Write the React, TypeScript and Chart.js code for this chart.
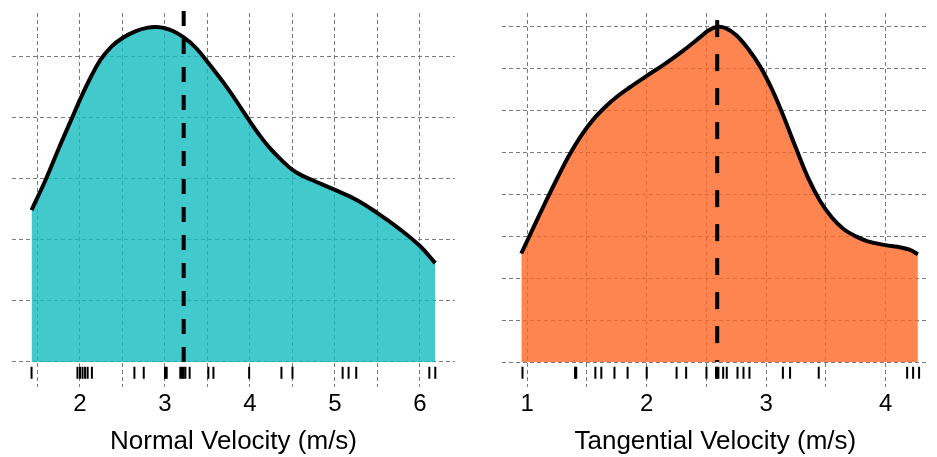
import React, { useEffect, useRef } from 'react';
import { Chart, registerables } from 'chart.js';

Chart.register(...registerables);

// ---------- data ----------
// Normal velocity density (y in density units)
const normalX = [1.43, 1.6, 1.75, 1.9, 2.0, 2.12, 2.24, 2.37, 2.5, 2.65, 2.8, 2.9, 3.0, 3.1, 3.22, 3.35, 3.47, 3.6, 3.75, 3.9, 4.0, 4.1, 4.25, 4.4, 4.5, 4.62, 4.75, 5.0, 5.25, 5.5, 5.75, 6.0, 6.18];
const normalY = [0.1245, 0.15, 0.175, 0.199, 0.215, 0.2325, 0.2475, 0.2585, 0.2655, 0.271, 0.274, 0.2745, 0.2735, 0.271, 0.266, 0.2585, 0.2485, 0.237, 0.223, 0.2075, 0.197, 0.187, 0.174, 0.1635, 0.1575, 0.1525, 0.1485, 0.141, 0.133, 0.122, 0.1095, 0.095, 0.081];
const normalRug = [1.43, 1.97, 2.0, 2.03, 2.06, 2.09, 2.14, 2.64, 2.75, 3.0, 3.02, 3.18, 3.2, 3.22, 3.24, 3.29, 3.51, 3.57, 3.99, 4.37, 4.5, 5.09, 5.16, 5.25, 6.11, 6.18];
const normalMedian = 3.22;
const normalTicksX = [1.5, 2, 2.5, 3, 3.5, 4, 4.5, 5, 5.5, 6];
const normalTicksY = [0, 0.05, 0.1, 0.15, 0.2, 0.25];

// Tangential velocity density
const tangX = [0.95, 1.05, 1.15, 1.25, 1.35, 1.45, 1.55, 1.65, 1.75, 1.85, 2.0, 2.15, 2.3, 2.45, 2.52, 2.59, 2.66, 2.75, 2.85, 2.95, 3.05, 3.15, 3.25, 3.35, 3.45, 3.55, 3.65, 3.75, 3.85, 4.0, 4.1, 4.2, 4.27];
const tangY = [0.1295, 0.16, 0.19, 0.219, 0.2465, 0.27, 0.289, 0.304, 0.3165, 0.327, 0.3415, 0.3555, 0.371, 0.388, 0.396, 0.4, 0.3985, 0.39, 0.3735, 0.3525, 0.325, 0.2915, 0.255, 0.22, 0.1925, 0.1725, 0.1585, 0.15, 0.144, 0.1395, 0.1375, 0.134, 0.1285];
const tangRug = [0.96, 1.4, 1.41, 1.57, 1.62, 1.73, 1.84, 2.0, 2.25, 2.33, 2.5, 2.58, 2.59, 2.6, 2.64, 2.67, 2.76, 2.81, 2.86, 3.14, 3.2, 3.44, 4.18, 4.23, 4.28];
const tangMedian = 2.59;
const tangTicksX = [1, 1.5, 2, 2.5, 3, 3.5, 4];
const tangTicksY = [0, 0.05, 0.1, 0.15, 0.2, 0.25, 0.3, 0.35, 0.4];

const FONT = "'Liberation Sans', Arial, Helvetica, sans-serif";

type PanelProps = {
  xs: number[];
  ys: number[];
  rug: number[];
  median: number;
  medianTop: number;
  ticksX: number[];
  ticksY: number[];
  xMin: number;
  xMax: number;
  yMin: number;
  yMax: number;
  rugY: number;
  fill: string;
  title: string;
  yAxisWidth: number;
  rightPad: number;
  width: number;
  left: number;
  dash: number[];
};

function DensityPanel(p: PanelProps) {
  const ref = useRef<HTMLCanvasElement | null>(null);
  useEffect(() => {
    if (!ref.current) return;
    const chart = new Chart(ref.current, {
      type: 'line',
      data: {
        datasets: [
          {
            data: [
              { x: p.median, y: p.medianTop },
              { x: p.median, y: 0 },
            ],
            borderColor: '#000',
            borderWidth: 4,
            borderDash: p.dash,
            pointRadius: 0,
            fill: false,
            clip: false as any,
            order: 0,
          } as any,
          {
            data: p.rug.map((v) => ({ x: v, y: p.rugY })),
            showLine: false,
            pointStyle: 'line',
            pointRotation: 90,
            pointRadius: 6,
            pointBorderWidth: 2,
            pointBorderColor: '#000',
            pointBackgroundColor: '#000',
            order: 1,
          } as any,
          {
            data: p.xs.map((x, i) => ({ x, y: p.ys[i] })),
            borderColor: '#000',
            borderWidth: 4,
            backgroundColor: p.fill,
            fill: 'origin',
            pointRadius: 0,
            tension: 0.4,
            order: 2,
          } as any,
        ],
      },
      options: {
        animation: false,
        responsive: false,
        events: [],
        layout: { padding: { top: 13, right: p.rightPad, left: 0, bottom: 0 } },
        plugins: { legend: { display: false }, tooltip: { enabled: false } },
        scales: {
          x: {
            type: 'linear',
            min: p.xMin,
            max: p.xMax,
            afterBuildTicks: (s: any) => {
              s.ticks = p.ticksX.map((v) => ({ value: v }));
            },
            afterFit: (s: any) => {
              s.height = 70;
            },
            grid: { color: '#7a7a7a', lineWidth: 1, drawTicks: false },
            border: { display: false, dash: [4, 3] },
            ticks: {
              padding: 3,
              color: '#000',
              autoSkip: false,
              maxRotation: 0,
              font: { family: FONT, size: 24 },
              callback: (v: any) => (Number.isInteger(Number(v)) ? String(v) : ''),
            },
            title: {
              display: true,
              text: p.title,
              color: '#000',
              font: { family: FONT, size: 26 },
              padding: 0,
            },
          },
          y: {
            type: 'linear',
            min: p.yMin,
            max: p.yMax,
            afterBuildTicks: (s: any) => {
              s.ticks = p.ticksY.map((v) => ({ value: v }));
            },
            afterFit: (s: any) => {
              s.width = p.yAxisWidth;
            },
            grid: { color: '#7a7a7a', lineWidth: 1, drawTicks: false },
            border: { display: false, dash: [4, 3] },
            ticks: { display: false },
          },
        },
      } as any,
    });
    return () => chart.destroy();
  }, []);
  return (
    <canvas
      ref={ref}
      width={p.width}
      height={457}
      style={{ position: 'absolute', left: p.left, top: 0, width: p.width, height: 457, display: 'block' }}
    />
  );
}

export default function App() {
  return (
    <div style={{ position: 'absolute', left: 0, top: 0, width: 937, height: 457, background: '#fff' }}>
      <DensityPanel
        xs={normalX}
        ys={normalY}
        rug={normalRug}
        median={normalMedian}
        medianTop={0.2877}
        ticksX={normalTicksX}
        ticksY={normalTicksY}
        xMin={1.2}
        xMax={6.412}
        yMin={-0.0205}
        yMax={0.286}
        rugY={-0.00885}
        fill="rgba(19,188,191,0.8)"
        title="Normal Velocity (m/s)"
        yAxisWidth={12}
        rightPad={13}
        width={468}
        left={0}
        dash={[15, 13]}
      />
      <DensityPanel
        xs={tangX}
        ys={tangY}
        rug={tangRug}
        median={tangMedian}
        medianTop={0.408}
        ticksX={tangTicksX}
        ticksY={tangTicksY}
        xMin={0.786}
        xMax={4.363}
        yMin={-0.0298}
        yMax={0.4165}
        rugY={-0.0129}
        fill="rgba(255,102,36,0.8)"
        title="Tangential Velocity (m/s)"
        yAxisWidth={33.7}
        rightPad={0}
        width={469}
        left={468}
        dash={[17, 17]}
      />
    </div>
  );
}
